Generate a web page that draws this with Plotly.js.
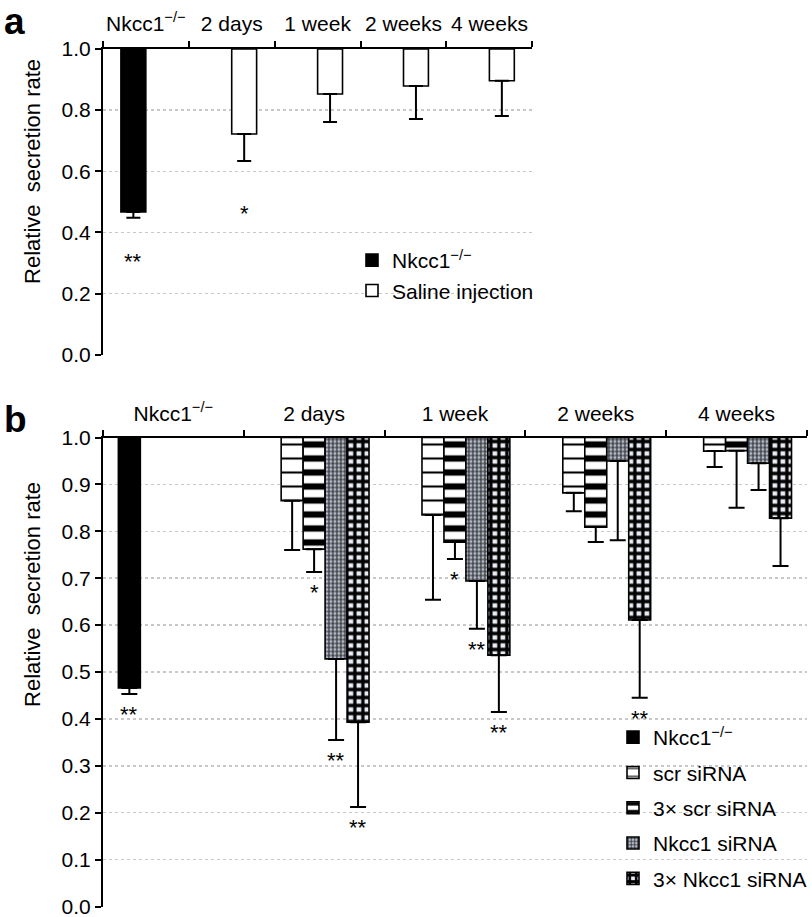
<!DOCTYPE html>
<html>
<head>
<meta charset="utf-8">
<script src="https://cdn.plot.ly/plotly-3.0.1.min.js"></script>
<style>html,body{margin:0;padding:0;background:#fff;}#chart{width:812px;height:917px;}</style>
</head>
<body>
<div id="chart"></div>
<script>
// ---------- Panel a data ----------
const categoriesA = ['Nkcc1<sup>−/−</sup>', '2 days', '1 week', '2 weeks', '4 weeks'];
const nkccA = [0.467];
const nkccAErr = [0.019];
const nkccASig = ['**'];
const salineCatsA = ['2 days', '1 week', '2 weeks', '4 weeks'];
const salineA = [0.722, 0.853, 0.879, 0.896];
const salineAErr = [0.088, 0.092, 0.108, 0.115];
const salineASig = ['*', '', '', ''];

// ---------- Panel b data ----------
const categoriesB = ['Nkcc1<sup>−/−</sup>', '2 days', '1 week', '2 weeks', '4 weeks'];
const nkccB = [0.466];
const nkccBErr = [0.013];
const nkccBSig = ['**'];
const timeCatsB = ['2 days', '1 week', '2 weeks', '4 weeks'];
const scrB = [0.865, 0.835, 0.882, 0.971];
const scrBErr = [0.105, 0.181, 0.039, 0.034];
const scrBSig = ['', '', '', ''];
const scr3B = [0.762, 0.777, 0.809, 0.972];
const scr3BErr = [0.049, 0.036, 0.032, 0.122];
const scr3BSig = ['*', '*', '', ''];
const nkSiB = [0.528, 0.694, 0.950, 0.945];
const nkSiBErr = [0.173, 0.102, 0.169, 0.057];
const nkSiBSig = ['**', '**', '', ''];
const nkSi3B = [0.393, 0.536, 0.611, 0.828];
const nkSi3BErr = [0.181, 0.121, 0.166, 0.102];
const nkSi3BSig = ['**', '**', '**', ''];

const legendNamesA = ['Nkcc1<sup>−/−</sup>', 'Saline injection'];
const legendNamesB = ['Nkcc1<sup>−/−</sup>', 'scr siRNA', '3× scr siRNA', 'Nkcc1 siRNA', '3× Nkcc1 siRNA'];

// ---------- styling ----------
const FONT = 'Liberation Sans, Arial, Helvetica, sans-serif';
const FS = 21;
const wA = 0.29;   // bar width (category units), panel a
const wB = 0.156;  // bar width (category units), panel b

function hangingBar(cats, vals, errs, name, opts) {
  return Object.assign({
    type: 'bar',
    x: cats,
    y: vals.map(v => v - 1),
    base: 1,
    name: name,
    error_y: {type: 'data', symmetric: false, array: vals.map(() => 0), arrayminus: errs,
              color: '#000', thickness: 2, width: 8},
    hoverinfo: 'skip'
  }, opts);
}

const lineStyle = {color: '#000', width: 1.6};
const errA = (vals, errs) => ({type: 'data', symmetric: false, array: vals.map(() => 0), arrayminus: errs,
  color: '#000', thickness: 2, width: 7});

const traces = [
  hangingBar(['Nkcc1<sup>−/−</sup>'], nkccA, nkccAErr, legendNamesA[0], {
    xaxis: 'x', yaxis: 'y', width: wA, offset: -wA, legend: 'legend', legendgroup: 'a1',
    marker: {color: '#000', line: lineStyle}, error_y: errA(nkccA, nkccAErr)
  }),
  hangingBar(salineCatsA, salineA, salineAErr, legendNamesA[1], {
    xaxis: 'x', yaxis: 'y', width: wA, offset: 0, legend: 'legend', legendgroup: 'a2',
    marker: {color: '#fff', line: lineStyle}, error_y: errA(salineA, salineAErr)
  }),
  hangingBar(['Nkcc1<sup>−/−</sup>'], nkccB, nkccBErr, legendNamesB[0], {
    xaxis: 'x2', yaxis: 'y2', width: wB, offset: -2.5 * wB, legend: 'legend2', legendgroup: 'b1',
    marker: {color: '#000', line: lineStyle}
  }),
  hangingBar(timeCatsB, scrB, scrBErr, legendNamesB[1], {
    xaxis: 'x2', yaxis: 'y2', width: wB, offset: -1.5 * wB, legend: 'legend2', legendgroup: 'b2',
    marker: {color: '#fff', line: lineStyle,
      pattern: {shape: '-', fgcolor: '#000', bgcolor: '#fff', size: 14, solidity: 0.15}}
  }),
  hangingBar(timeCatsB, scr3B, scr3BErr, legendNamesB[2], {
    xaxis: 'x2', yaxis: 'y2', width: wB, offset: -0.5 * wB, legend: 'legend2', legendgroup: 'b3',
    marker: {color: '#fff', line: lineStyle,
      pattern: {shape: '-', fgcolor: '#000', bgcolor: '#fff', size: 14, solidity: 0.45}}
  }),
  hangingBar(timeCatsB, nkSiB, nkSiBErr, legendNamesB[3], {
    xaxis: 'x2', yaxis: 'y2', width: wB, offset: 0.5 * wB, legend: 'legend2', legendgroup: 'b4',
    marker: {color: '#fff', line: lineStyle,
      pattern: {shape: '+', fgcolor: '#2a2a2a', bgcolor: '#b9c1d2', size: 4, solidity: 0.5}}
  }),
  hangingBar(timeCatsB, nkSi3B, nkSi3BErr, legendNamesB[4], {
    xaxis: 'x2', yaxis: 'y2', width: wB, offset: 1.5 * wB, legend: 'legend2', legendgroup: 'b5',
    marker: {color: '#fff', line: lineStyle,
      pattern: {shape: '+', fgcolor: '#000', bgcolor: '#e8ecf4', size: 8, solidity: 0.65}}
  })
];

// ---------- significance stars (placed below each error bar) ----------
const annotations = [];
function addStars(cats, catList, vals, errs, sigs, xref, yref, slotCenter, shift) {
  cats.forEach((c, i) => {
    if (!sigs[i]) return;
    annotations.push({
      xref: xref, yref: yref, x: catList.indexOf(c) + slotCenter, y: vals[i] - errs[i],
      text: sigs[i], showarrow: false, xanchor: 'center', yanchor: 'top', yshift: shift,
      font: {family: FONT, size: 22, color: '#000'}
    });
  });
}
addStars(['Nkcc1<sup>−/−</sup>'], categoriesA, nkccA, nkccAErr, nkccASig, 'x', 'y', -wA / 2, -29);
addStars(salineCatsA, categoriesA, salineA, salineAErr, salineASig, 'x', 'y', wA / 2, -38);
addStars(['Nkcc1<sup>−/−</sup>'], categoriesB, nkccB, nkccBErr, nkccBSig, 'x2', 'y2', -2 * wB, -6);
addStars(timeCatsB, categoriesB, scrB, scrBErr, scrBSig, 'x2', 'y2', -1 * wB, -6);
addStars(timeCatsB, categoriesB, scr3B, scr3BErr, scr3BSig, 'x2', 'y2', 0, -6);
addStars(timeCatsB, categoriesB, nkSiB, nkSiBErr, nkSiBSig, 'x2', 'y2', 1 * wB, -6);
addStars(timeCatsB, categoriesB, nkSi3B, nkSi3BErr, nkSi3BSig, 'x2', 'y2', 2 * wB, -6);

// panel letters and y titles
annotations.push(
  {xref: 'paper', yref: 'paper', x: 2 / 812, y: 1 - 44 / 917, text: '<b>a</b>', showarrow: false,
   xanchor: 'left', yanchor: 'bottom', font: {family: FONT, size: 37, color: '#000'}},
  {xref: 'paper', yref: 'paper', x: 2 / 812, y: 1 - 442 / 917, text: '<b>b</b>', showarrow: false,
   xanchor: 'left', yanchor: 'bottom', font: {family: FONT, size: 37, color: '#000'}},
  {xref: 'paper', yref: 'paper', x: 32 / 812, y: 1 - 171 / 917, text: 'Relative\u00a0 secretion rate', showarrow: false,
   textangle: -90, xanchor: 'center', yanchor: 'middle', font: {family: FONT, size: 22, color: '#000'}},
  {xref: 'paper', yref: 'paper', x: 32 / 812, y: 1 - 594 / 917, text: 'Relative\u00a0 secretion rate', showarrow: false,
   textangle: -90, xanchor: 'center', yanchor: 'middle', font: {family: FONT, size: 22, color: '#000'}}
);

const xCommon = {
  type: 'category', side: 'top', showline: true, linecolor: '#000', linewidth: 2,
  ticks: 'outside', tickson: 'boundaries', ticklen: 6, tickwidth: 2, tickcolor: '#000', tickangle: 0,
  tickfont: {family: FONT, size: FS, color: '#000'}, showgrid: false, zeroline: false,
  range: [-0.5, 4.5], automargin: false, fixedrange: true, ticklabeloverflow: 'allow'
};
const yCommon = {
  range: [-0.001, 1], tick0: 0, tickformat: '.1f', showline: true, linecolor: '#000', linewidth: 2,
  ticks: 'outside', ticklen: 6, tickwidth: 2, tickcolor: '#000', ticklabeloverflow: 'allow',
  tickfont: {family: FONT, size: FS, color: '#000'}, showgrid: true, gridcolor: '#c8c8c8',
  griddash: 'dot', gridwidth: 1.5, zeroline: false, automargin: false, fixedrange: true
};

const layout = {
  width: 812, height: 917,
  margin: {l: 0, r: 0, t: 0, b: 0},
  paper_bgcolor: '#fff', plot_bgcolor: 'rgba(0,0,0,0)',
  font: {family: FONT, size: FS, color: '#000'},
  barmode: 'overlay',
  xaxis: Object.assign({}, xCommon, {domain: [103 / 812, 533 / 812], anchor: 'y', ticklabelstandoff: 8,
    categoryorder: 'array', categoryarray: categoriesA}),
  yaxis: Object.assign({}, yCommon, {domain: [1 - 355 / 917, 1 - 49 / 917], anchor: 'x', dtick: 0.2}),
  xaxis2: Object.assign({}, xCommon, {domain: [103 / 812, 808 / 812], anchor: 'y2', ticklabelstandoff: 6,
    categoryorder: 'array', categoryarray: categoriesB}),
  yaxis2: Object.assign({}, yCommon, {domain: [1 - 907 / 917, 1 - 437.5 / 917], anchor: 'x2', dtick: 0.1}),
  legend: {x: 352 / 812, y: 1 - 240 / 917, xanchor: 'left', yanchor: 'top', bgcolor: 'rgba(0,0,0,0)',
    font: {family: FONT, size: FS, color: '#000'}, tracegroupgap: 0, traceorder: 'grouped'},
  legend2: {x: 614 / 812, y: 1 - 717 / 917, xanchor: 'left', yanchor: 'top', bgcolor: 'rgba(0,0,0,0)',
    font: {family: FONT, size: FS, color: '#000'}, tracegroupgap: 5, traceorder: 'grouped'},
  annotations: annotations,
  showlegend: true
};

Plotly.newPlot('chart', traces, layout, {displayModeBar: false, staticPlot: true});
</script>
</body>
</html>
